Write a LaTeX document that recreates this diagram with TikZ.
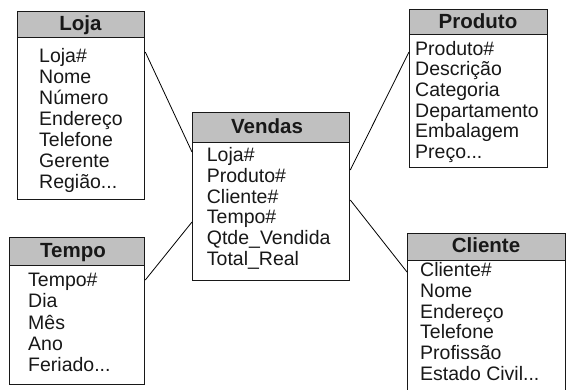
\documentclass[tikz,border=0pt]{standalone}
\usepackage{fontspec}
\setmainfont{Liberation Sans}
\usetikzlibrary{calc}
\definecolor{hdrgray}{RGB}{192,192,192}
\definecolor{txt}{RGB}{24,24,24}
\newcommand\tdots{...}
\begin{document}
\begin{tikzpicture}[x=1pt,y=-1pt,
  tbl/.style={draw=txt,line width=1.3pt,fill=white,inner sep=0pt,anchor=north west},
  hdr/.style={draw=txt,line width=1.3pt,fill=hdrgray,inner sep=0pt,anchor=north west},
  title/.style={font=\fontsize{20.5}{20.5}\selectfont\bfseries,text=txt,inner sep=0pt,anchor=base},
  item/.style={font=\fontsize{19.5}{21}\selectfont,text=txt,inner sep=0pt,anchor=base west},
  link/.style={draw=black,line width=0.8pt}]
\useasboundingbox (0,0) rectangle (570,389);
\clip (0,0) rectangle (570,389);
\fill[white] (0,0) rectangle (570,389);

% Loja
\node[tbl,minimum width=127pt,minimum height=188pt] (loja) at (17,11) {};
\node[hdr,minimum width=127pt,minimum height=26pt] (lojah) at (17,11) {};
\node[title] (lojat) at (80.5,30.7) {Loja};
\foreach \t [count=\i] in {Loja\#,Nome,Número,Endereço,Telefone,Gerente,Região\tdots}
  \node[item] (loja-\i) at (39,{62.7+20.9*(\i-1)}) {\t};

% Produto
\node[tbl,minimum width=138pt,minimum height=158pt] (prod) at (409,9) {};
\node[hdr,minimum width=138pt,minimum height=25pt] (prodh) at (409,9) {};
\node[title] (prodt) at (478,28.3) {Produto};
\foreach \t [count=\i] in {Produto\#,Descrição,Categoria,Departamento,Embalagem,Preço\tdots}
  \node[item] (prod-\i) at (415,{55+20.7*(\i-1)}) {\t};

% Vendas
\node[tbl,minimum width=157pt,minimum height=168pt] (vend) at (192,112) {};
\node[hdr,minimum width=157pt,minimum height=30pt] (vendh) at (192,112) {};
\node[title] (vendt) at (267,133.5) {Vendas};
\foreach \t [count=\i] in {Loja\#,Produto\#,Cliente\#,Tempo\#,Qtde\_Vendida,Total\_Real}
  \node[item] (vend-\i) at (206.7,{161.7+20.7*(\i-1)}) {\t};

% Tempo
\node[tbl,minimum width=135pt,minimum height=147pt] (temp) at (9,237) {};
\node[hdr,minimum width=135pt,minimum height=28pt] (temph) at (9,237) {};
\node[title] (tempt) at (73,257.3) {Tempo};
\foreach \t [count=\i] in {Tempo\#,Dia,Mês,Ano,Feriado\tdots}
  \node[item] (temp-\i) at (28,{286.7+21.2*(\i-1)}) {\t};

% Cliente
\node[tbl,minimum width=158pt,minimum height=180pt] (clie) at (407,233) {};
\node[hdr,minimum width=158pt,minimum height=27pt] (clieh) at (407,233) {};
\node[title] (cliet) at (486,252) {Cliente};
\foreach \t [count=\i] in {Cliente\#,Nome,Endereço,Telefone,Profissão,Estado Civil\tdots}
  \node[item] (clie-\i) at (420,{276.7+20.7*(\i-1)}) {\t};

% connectors
\draw[link] ($(loja.north east)+(0,41)$) -- ($(vend.north west)+(0,40)$);
\draw[link] ($(prod.north west)+(0,43)$) -- ($(vend.north east)+(0,58)$);
\draw[link] ($(vend.north east)+(0,88)$) -- ($(clie.north west)+(0,39)$);
\draw[link] ($(vend.north west)+(0,110)$) -- ($(temp.north east)+(0,43)$);
\end{tikzpicture}
\end{document}
